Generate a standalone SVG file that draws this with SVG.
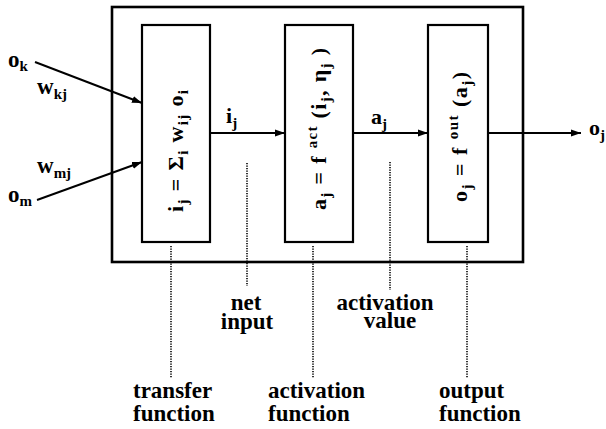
<svg xmlns="http://www.w3.org/2000/svg" width="606" height="429" viewBox="0 0 606 429">
<defs>
<marker id="ah" markerUnits="userSpaceOnUse" markerWidth="11" markerHeight="8" refX="10" refY="4" orient="auto">
<path d="M0,0.5 L10,4 L0,7.5 Z" fill="#000"/>
</marker>
</defs>
<rect width="606" height="429" fill="#fff"/>
<g id="unit"><rect x="112" y="7" width="411" height="255" fill="none" stroke="#000" stroke-width="2.6"/></g>
<g id="transfer"><rect x="142" y="25" width="68" height="217" fill="#fff" stroke="#000" stroke-width="2.2"/>
<text font-family="Liberation Serif" font-weight="bold" font-size="22" textLength="122" lengthAdjust="spacing" transform="translate(183,212) rotate(-90)">i<tspan font-size="15" dy="5">j</tspan><tspan dy="-5"> = Σ</tspan><tspan font-size="15" dy="5">i</tspan><tspan dy="-5"> w</tspan><tspan font-size="15" dy="5">ij</tspan><tspan dy="-5"> o</tspan><tspan font-size="15" dy="5">i</tspan></text></g>
<g id="activation"><rect x="285" y="25" width="68" height="217" fill="#fff" stroke="#000" stroke-width="2.2"/>
<text font-family="Liberation Serif" font-weight="bold" font-size="22" textLength="162" lengthAdjust="spacing" transform="translate(326,210) rotate(-90)">a<tspan font-size="15" dy="5">j</tspan><tspan dy="-5"> = f </tspan><tspan font-size="15" dy="-9">act</tspan><tspan dy="9"> (i</tspan><tspan font-size="15" dy="5">j</tspan><tspan dy="-5">, η</tspan><tspan font-size="15" dy="5">j</tspan><tspan dy="-5"> )</tspan></text></g>
<g id="output"><rect x="428" y="25" width="60" height="217" fill="#fff" stroke="#000" stroke-width="2.2"/>
<text font-family="Liberation Serif" font-weight="bold" font-size="22" textLength="130" lengthAdjust="spacing" transform="translate(467,202) rotate(-90)">o<tspan font-size="15" dy="5">j</tspan><tspan dy="-5"> = f </tspan><tspan font-size="15" dy="-9">out</tspan><tspan dy="9"> (a</tspan><tspan font-size="15" dy="5">j</tspan><tspan dy="-5">)</tspan></text></g>
<g id="connectors">
<g fill="none" stroke="#000" stroke-width="2" marker-end="url(#ah)">
<line x1="35" y1="62" x2="142" y2="103"/>
<line x1="37" y1="200" x2="142" y2="162"/>
<line x1="210" y1="133" x2="285" y2="133"/>
<line x1="353" y1="133" x2="428" y2="133"/>
<line x1="488" y1="133" x2="581" y2="133"/>
</g>
<g fill="none" stroke="#000" stroke-width="1.6" stroke-dasharray="1.2 1.3">
<line x1="171" y1="246" x2="171" y2="378"/>
<line x1="247" y1="163" x2="247" y2="286"/>
<line x1="313" y1="246" x2="313" y2="378"/>
<line x1="390" y1="162" x2="390" y2="290"/>
<line x1="467" y1="246" x2="467" y2="378"/>
</g>
</g>
<g id="labels">
<text font-family="Liberation Serif" font-weight="bold" font-size="23" x="8" y="67">o<tspan font-size="15" dy="4">k</tspan></text>
<text font-family="Liberation Serif" font-weight="bold" font-size="23" x="37" y="94">w<tspan font-size="15" dy="5">kj</tspan></text>
<text font-family="Liberation Serif" font-weight="bold" font-size="23" x="37" y="173">w<tspan font-size="15" dy="5">mj</tspan></text>
<text font-family="Liberation Serif" font-weight="bold" font-size="23" x="8" y="202">o<tspan font-size="15" dy="4">m</tspan></text>
<text font-family="Liberation Serif" font-weight="bold" font-size="22" x="226" y="123">i<tspan font-size="15" dy="5">j</tspan></text>
<text font-family="Liberation Serif" font-weight="bold" font-size="22" x="371" y="124">a<tspan font-size="15" dy="5">j</tspan></text>
<text font-family="Liberation Serif" font-weight="bold" font-size="22" x="589" y="135">o<tspan font-size="15" dy="5">j</tspan></text>
<text font-family="Liberation Serif" font-weight="bold" font-size="23" x="246" y="310" text-anchor="middle">net</text>
<text font-family="Liberation Serif" font-weight="bold" font-size="23" x="247" y="329" text-anchor="middle">input</text>
<text font-family="Liberation Serif" font-weight="bold" font-size="23" x="385" y="310" text-anchor="middle">activation</text>
<text font-family="Liberation Serif" font-weight="bold" font-size="23" x="390" y="328" text-anchor="middle">value</text>
<text font-family="Liberation Serif" font-weight="bold" font-size="23" x="133" y="398">transfer</text>
<text font-family="Liberation Serif" font-weight="bold" font-size="23" x="133" y="421">function</text>
<text font-family="Liberation Serif" font-weight="bold" font-size="23" x="268" y="398">activation</text>
<text font-family="Liberation Serif" font-weight="bold" font-size="23" x="268" y="421">function</text>
<text font-family="Liberation Serif" font-weight="bold" font-size="23" x="439" y="398">output</text>
<text font-family="Liberation Serif" font-weight="bold" font-size="23" x="439" y="421">function</text>
</g>
</svg>
